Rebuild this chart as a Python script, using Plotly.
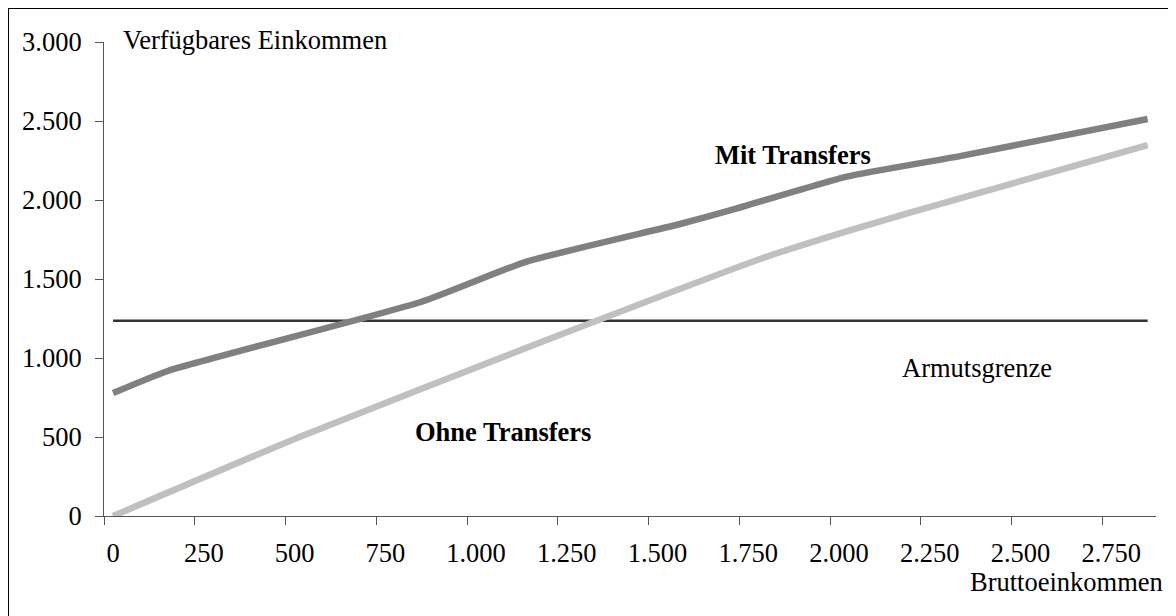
import plotly.graph_objects as go

# Data
mit_x = [25, 176, 875, 1164, 1587, 1729, 2046, 2358, 2875]
mit_y = [778, 918, 1356, 1610, 1848, 1937, 2148, 2278, 2513]

ohne_x = [25, 540, 1219, 1825, 2073, 2358, 2875]
ohne_y = [0, 502, 1114, 1641, 1821, 2011, 2348]

armut_x = [25, 2875]
armut_y = [1236, 1236]

x_ticks = [0, 250, 500, 750, 1000, 1250, 1500, 1750, 2000, 2250, 2500, 2750]
x_labels = ["0", "250", "500", "750", "1.000", "1.250", "1.500", "1.750", "2.000", "2.250", "2.500", "2.750"]
y_ticks = [0, 500, 1000, 1500, 2000, 2500, 3000]
y_labels = ["0", "500", "1.000", "1.500", "2.000", "2.500", "3.000"]

FONT = "Liberation Serif, Times New Roman, serif"
FS = 26.5
OFF = 8  # page body margin
W, H = 1176, 616
L, R, T, B = 104 - OFF, 1176 - (1156 - OFF), 42 - OFF, 616 - (516 - OFF)
pw, ph = W - L - R, H - T - B

fig = go.Figure()
fig.add_trace(go.Scatter(x=armut_x, y=armut_y, mode="lines",
                         line=dict(color="#333333", width=2.5), hoverinfo="skip"))
fig.add_trace(go.Scatter(x=ohne_x, y=ohne_y, mode="lines",
                         line=dict(color="#C0C0C0", width=6.5, shape="spline", smoothing=0.5)))
fig.add_trace(go.Scatter(x=mit_x, y=mit_y, mode="lines",
                         line=dict(color="#808080", width=6.5, shape="spline", smoothing=0.5)))

def px_x(p):
    return (p - OFF - L) / pw

def px_y(p):
    return (H - B - (p - OFF)) / ph

annotations = [
    dict(text="Verfügbares Einkommen", x=px_x(121), y=px_y(40), xref="paper", yref="paper",
         xanchor="left", yanchor="middle", showarrow=False),
    dict(text="Bruttoeinkommen", x=px_x(1165), y=px_y(582), xref="paper", yref="paper",
         xanchor="right", yanchor="middle", showarrow=False),
    dict(text="<b>Mit Transfers</b>", x=px_x(793), y=px_y(155), xref="paper", yref="paper",
         xanchor="center", yanchor="middle", showarrow=False),
    dict(text="<b>Ohne Transfers</b>", x=px_x(503), y=px_y(432), xref="paper", yref="paper",
         xanchor="center", yanchor="middle", showarrow=False),
    dict(text="Armutsgrenze", x=px_x(977), y=px_y(368), xref="paper", yref="paper",
         xanchor="center", yanchor="middle", showarrow=False),
]

shapes = [
    dict(type="line", xref="paper", yref="paper", x0=px_x(8), x1=px_x(1190), y0=px_y(8), y1=px_y(8),
         line=dict(color="black", width=2)),
    dict(type="line", xref="paper", yref="paper", x0=px_x(8), x1=px_x(8), y0=px_y(8), y1=px_y(630),
         line=dict(color="black", width=2)),
]

fig.update_layout(
    width=W, height=H,
    margin=dict(l=L, r=R, t=T, b=B),
    paper_bgcolor="white", plot_bgcolor="white",
    showlegend=False,
    font=dict(family=FONT, size=FS, color="black"),
    annotations=annotations,
    shapes=shapes,
    xaxis=dict(range=[0, 2898], tickvals=x_ticks, ticktext=x_labels,
               showgrid=False, zeroline=False, showline=True, linecolor="#555555", linewidth=1,
               ticks="outside", ticklen=8, tickcolor="#555555",
               ticklabelshift=9, ticklabelstandoff=5,
               tickfont=dict(family=FONT, size=FS, color="black")),
    yaxis=dict(range=[0, 3000], tickvals=y_ticks, ticktext=y_labels,
               showgrid=False, zeroline=False, showline=True, linecolor="#555555", linewidth=1,
               ticks="outside", ticklen=8, tickcolor="#555555",
               ticklabelstandoff=8,
               tickfont=dict(family=FONT, size=FS, color="black")),
)

fig.write_html("out.html")
